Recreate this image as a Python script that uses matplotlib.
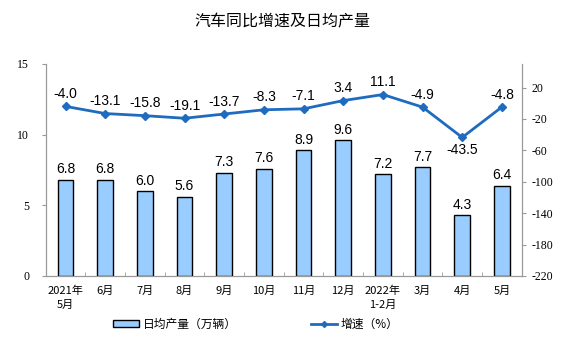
import matplotlib
matplotlib.use('Agg')
import matplotlib.pyplot as plt
from matplotlib.patches import Patch
from matplotlib.lines import Line2D
import numpy as np

plt.rcParams['font.family'] = ['Noto Sans CJK SC', 'DejaVu Sans']

# 数据
months = ['2021年\n5月', '6月', '7月', '8月', '9月', '10月', '11月', '12月',
          '2022年\n1-2月', '3月', '4月', '5月']
daily_output = [6.8, 6.8, 6.0, 5.6, 7.3, 7.6, 8.9, 9.6, 7.2, 7.7, 4.3, 6.4]
growth = [-4.0, -13.1, -15.8, -19.1, -13.7, -8.3, -7.1, 3.4, 11.1, -4.9, -43.5, -4.8]
left_ticks = [0, 5, 10, 15]
right_ticks = [-220, -180, -140, -100, -60, -20, 20]

BAR_C = '#99CCFF'
LINE_C = '#1F6BC0'

W, H = 564, 351
fig = plt.figure(figsize=(W / 100, H / 100), dpi=100)
ax = fig.add_axes([45.7 / W, 1 - 276 / H, (521.7 - 45.7) / W, (276 - 64) / H])
ax2 = ax.twinx()

x = np.arange(len(months))
ax.bar(x, daily_output, width=0.4, color=BAR_C, edgecolor='black', linewidth=1.0, zorder=2)
for xi, v in zip(x, daily_output):
    ax.text(xi, v + 0.25, f'{v:.1f}', ha='center', va='bottom', fontsize=10,
            family='Liberation Sans')

ax.set_xlim(-0.5, len(months) - 0.5)
ax.set_ylim(0, 15)
ax.set_yticks(left_ticks)
ax.set_yticklabels([str(t) for t in left_ticks], family='Liberation Serif', fontsize=8.5)
ax.set_xticks(x)
ax.set_xticklabels(months, fontsize=8, linespacing=1.45)
ax.set_xticks(np.arange(-0.5, len(months)), minor=True)
ax.tick_params(axis='x', which='major', length=0, pad=7)
ax.tick_params(axis='x', which='minor', length=3, direction='in', color='#999999')
ax.tick_params(axis='y', length=3, direction='out', color='#999999', pad=9)

# 增速折线
ax2.plot(x, growth, color=LINE_C, linewidth=2, marker='D', markersize=4, zorder=3)
for xi, v in zip(x, growth):
    if v < -30:
        ax2.text(xi, v - 7, f'{v:.1f}', ha='center', va='top', fontsize=10,
                 family='Liberation Sans')
    else:
        ax2.text(xi, v + 7, f'{v:.1f}', ha='center', va='bottom', fontsize=10,
                 family='Liberation Sans')
ax2.set_ylim(-220, 50)
ax2.set_yticks(right_ticks)
ax2.set_yticklabels([str(t) for t in right_ticks], family='Liberation Serif', fontsize=8.5)
ax2.tick_params(axis='y', length=3, direction='out', color='#999999', pad=4)

for a in (ax, ax2):
    a.spines['top'].set_visible(False)
    for s in ('left', 'right', 'bottom'):
        a.spines[s].set_color('#999999')

fig.text(0.5, 1 - 22 / H, '汽车同比增速及日均产量', ha='center', va='center', fontsize=11.5)

handles = [Patch(facecolor=BAR_C, edgecolor='black', linewidth=1.0),
           Line2D([0], [0], color=LINE_C, linewidth=2, marker='D', markersize=3)]
fig.legend(handles, ['日均产量（万辆）', '增速（%）'], loc='center left',
           bbox_to_anchor=(113 / W, 1 - 324 / H), ncol=2, frameon=False, fontsize=8.5,
           columnspacing=6.3, handlelength=2.2, handletextpad=0.3, handleheight=0.6,
           borderpad=0, borderaxespad=0)

fig.savefig('out.png', dpi=100)
